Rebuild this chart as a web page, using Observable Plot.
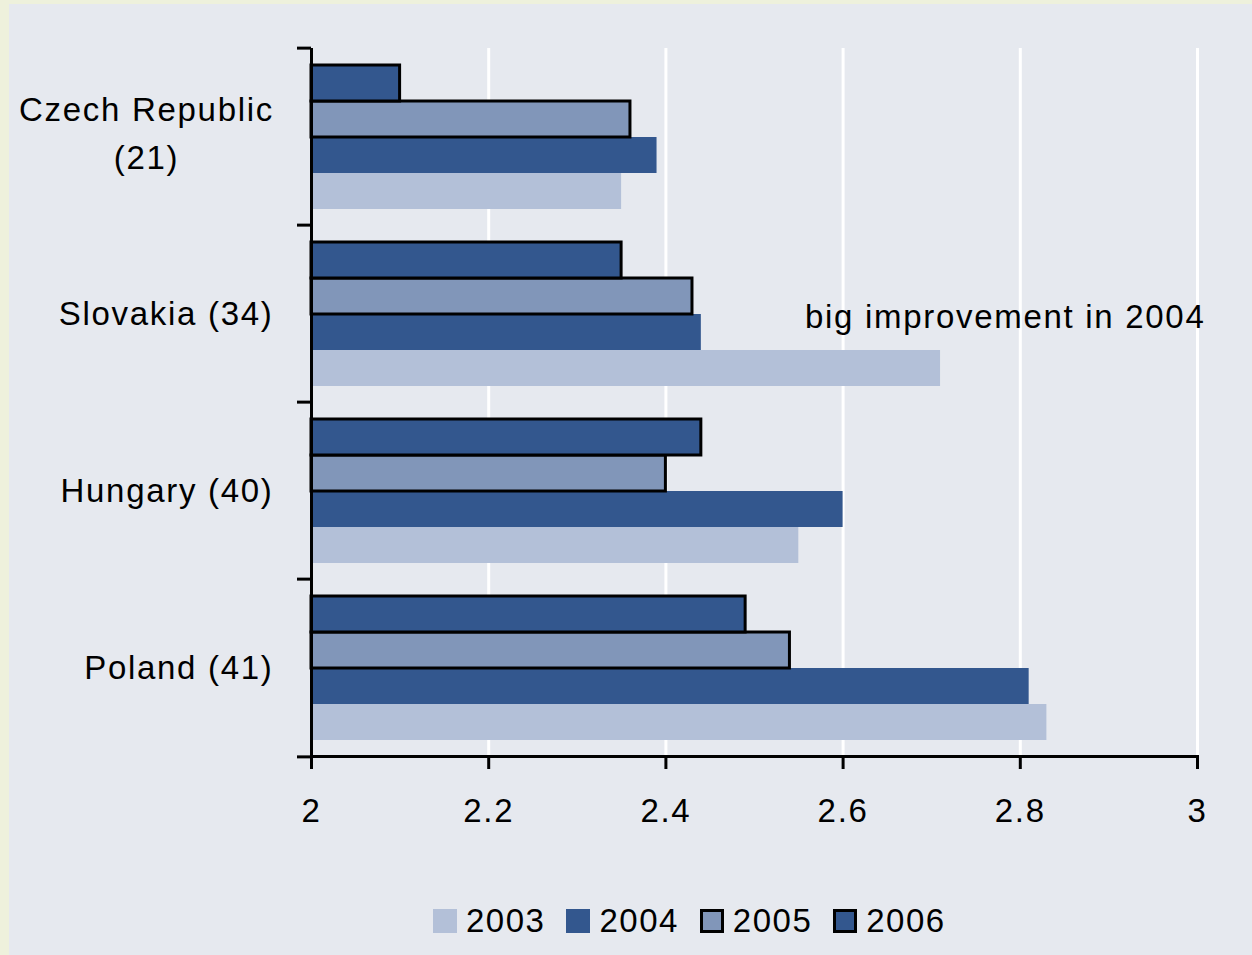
<!DOCTYPE html>
<html>
<head>
<meta charset="utf-8">
<script src="https://cdn.jsdelivr.net/npm/d3@7"></script>
<script src="https://cdn.jsdelivr.net/npm/@observablehq/plot@0.6"></script>
<style>
  html, body { margin: 0; padding: 0; }
  body { width: 1252px; height: 955px; background: #eef1dc; position: relative; overflow: hidden;
         font-family: "Liberation Sans", Arial, sans-serif; }
  #panel { position: absolute; left: 9px; top: 4px; width: 1243px; height: 951px; background: #e6e9ef; }
  #legend { position: absolute; left: 424px; top: 898px; display: flex; align-items: center;
            font-size: 33px; letter-spacing: 1.5px; color: #000; }
  .item { display: flex; align-items: center; margin-right: 21px; }
  .sw { width: 24px; height: 24px; box-sizing: border-box; margin-right: 9px; }
</style>
</head>
<body>
<div id="panel"><div id="chart"></div><div id="legend"></div></div>
<script>
// ---- data ----
const COUNTRIES = ["Czech Republic\n(21)", "Slovakia (34)", "Hungary (40)", "Poland (41)"];
const YEARS = ["2003", "2004", "2005", "2006"];
const YEAR_ORDER = ["2006", "2005", "2004", "2003"]; // top to bottom within a group
const V2003 = [2.35, 2.71, 2.55, 2.83];
const V2004 = [2.39, 2.44, 2.60, 2.81];
const V2005 = [2.36, 2.43, 2.40, 2.54];
const V2006 = [2.10, 2.35, 2.44, 2.49];
const COLORS = ["#b3c0d8", "#33578e", "#8196b9", "#33578e"];
const OUTLINED = ["2005", "2006"];
const BASE = 2;
const X_TICKS = [2, 2.2, 2.4, 2.6, 2.8, 3];
const GRID_TICKS = [2.2, 2.4, 2.6, 2.8, 3];
const NOTE_TEXT = "big improvement in 2004";
const NOTE_COUNTRY = "Slovakia (34)";
const NOTE_YEAR = "2004";
const NOTE_X = 2.557;

const SERIES = [V2003, V2004, V2005, V2006];
const rows = [];
COUNTRIES.forEach((c, i) => YEARS.forEach((y, j) => rows.push({country: c, year: y, value: SERIES[j][i]})));
const plain = rows.filter(d => !OUTLINED.includes(d.year));
const outlined = rows.filter(d => OUTLINED.includes(d.year));

const W = 1243, H = 850, ML = 302, MR = 55, MT = 42, MB = 97;
const bandH = (H - MT - MB) / COUNTRIES.length;

const chart = Plot.plot({
  width: W, height: H,
  marginLeft: ML, marginRight: MR, marginTop: MT, marginBottom: MB,
  style: {background: "transparent", fontFamily: "'Liberation Sans', Arial, sans-serif", fontSize: "33px", letterSpacing: "1.7px", color: "#000", overflow: "visible"},
  x: {domain: [2, 3]},
  y: {domain: YEAR_ORDER, paddingInner: 0, paddingOuter: 0.4, axis: null},
  fy: {domain: COUNTRIES, padding: 0},
  color: {domain: YEARS, range: COLORS},
  marks: [
    Plot.gridX({ticks: GRID_TICKS, stroke: "white", strokeWidth: 3, strokeOpacity: 1}),
    Plot.barX(plain, {fy: "country", y: "year", x1: () => BASE, x2: "value", fill: "year"}),
    Plot.barX(outlined, {fy: "country", y: "year", x1: () => BASE, x2: "value", fill: "year", stroke: "black", strokeWidth: 3}),
    Plot.ruleX([BASE], {stroke: "black", strokeWidth: 3}),
    Plot.frame({anchor: "bottom", facetAnchor: "bottom", stroke: "black", strokeWidth: 3}),
    Plot.axisFy({anchor: "left", tickSize: 14, dy: -bandH / 2, tickFormat: () => "", label: null, strokeWidth: 3, stroke: "black"}),
    Plot.axisFy({anchor: "left", ticks: [COUNTRIES[COUNTRIES.length - 1]], tickSize: 14, dy: bandH / 2, tickFormat: () => "", label: null, strokeWidth: 3, stroke: "black"}),
    Plot.axisX({ticks: X_TICKS, tickFormat: d => String(d), tickSize: 13, tickPadding: 29, strokeWidth: 3, stroke: "black", label: null, fill: "black"}),
    Plot.text(COUNTRIES.slice(1), {fy: d => d, text: d => d, frameAnchor: "left", dx: -38, textAnchor: "end", fill: "black"}),
    Plot.text(COUNTRIES.slice(0, 1), {fy: d => d, text: d => d, frameAnchor: "left", dx: -165, dy: -7, textAnchor: "middle", lineHeight: 1.45, fill: "black"}),
    Plot.text([NOTE_TEXT], {fy: () => NOTE_COUNTRY, y: () => NOTE_YEAR, x: () => NOTE_X, text: d => d, textAnchor: "start", dy: -15, fill: "black"})
  ]
});
document.getElementById("chart").appendChild(chart);

const legend = document.getElementById("legend");
YEARS.forEach((y, j) => {
  const item = document.createElement("div");
  item.className = "item";
  const sw = document.createElement("div");
  sw.className = "sw";
  sw.style.background = COLORS[j];
  if (OUTLINED.includes(y)) sw.style.border = "3px solid #000";
  const t = document.createElement("span");
  t.textContent = y;
  item.appendChild(sw); item.appendChild(t);
  legend.appendChild(item);
});
</script>
</body>
</html>
